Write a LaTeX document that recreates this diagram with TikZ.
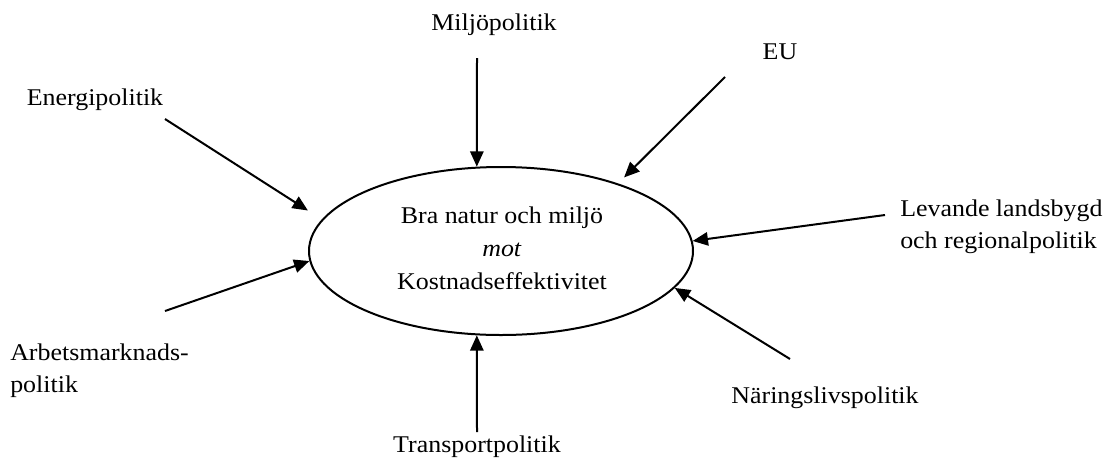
\documentclass[tikz,border=0pt]{standalone}
\usepackage{fontspec}
\setmainfont{Liberation Serif}[FakeStretch=1.08]
\usetikzlibrary{arrows.meta,shapes.geometric}
\begin{document}
\begin{tikzpicture}[x=0.75pt,y=-0.75pt,
  lbl/.style={inner sep=0pt,font=\fontsize{18}{23.5}\selectfont},
  inflow/.style={line width=1.5pt,-{Triangle[length=11.5pt,width=10pt]}},
  hubshape/.style={ellipse,draw,line width=1.5pt,minimum width=288pt,minimum height=126pt,inner sep=0pt}]
\useasboundingbox (0,0) rectangle (1116,458);

% central goal conflict
\node[hubshape] (hub) at (501,251) {};
\node[lbl,anchor=base,align=center,font=\fontsize{18}{24.4}\selectfont] (goal) at (502,289)
  {Bra natur och miljö\\\textit{mot}\\Kostnadseffektivitet};

% surrounding policy areas
\node[lbl,anchor=base] (miljo) at (494,30) {Miljöpolitik};
\node[lbl,anchor=base] (eu) at (780,59) {EU};
\node[lbl,anchor=base] (energi) at (95,105) {Energipolitik};
\node[lbl,anchor=base west,align=left] (arbete) at (10,392) {Arbetsmarknads-\\politik};
\node[lbl,anchor=base] (transport) at (477,452) {Transportpolitik};
\node[lbl,anchor=base west,align=left] (landsbygd) at (900,248) {Levande landsbygd\\och regionalpolitik};
\node[lbl,anchor=base] (naring) at (825,403) {Näringslivspolitik};

% where each influence arrow begins
\coordinate (miljoS) at (477,58);
\coordinate (euS) at (725,77);
\coordinate (energiS) at (165,119);
\coordinate (arbeteS) at (165,311);
\coordinate (transportS) at (477,432);
\coordinate (landS) at (885,215);
\coordinate (naringS) at (790,359);

% influences pointing at the goal conflict
\draw[inflow] (miljoS) -- (hub.106);
\draw[inflow,shorten >=6.4pt] (euS) -- (hub.30.2);
\draw[inflow,shorten >=12.4pt] (energiS) -- (hub.170.5);
\draw[inflow] (arbeteS) -- (hub.183.3);
\draw[inflow] (transportS) -- (hub.254);
\draw[inflow] (landS) -- (hub.3.3);
\draw[inflow] (naringS) -- (hub.348.2);
\end{tikzpicture}
\end{document}
